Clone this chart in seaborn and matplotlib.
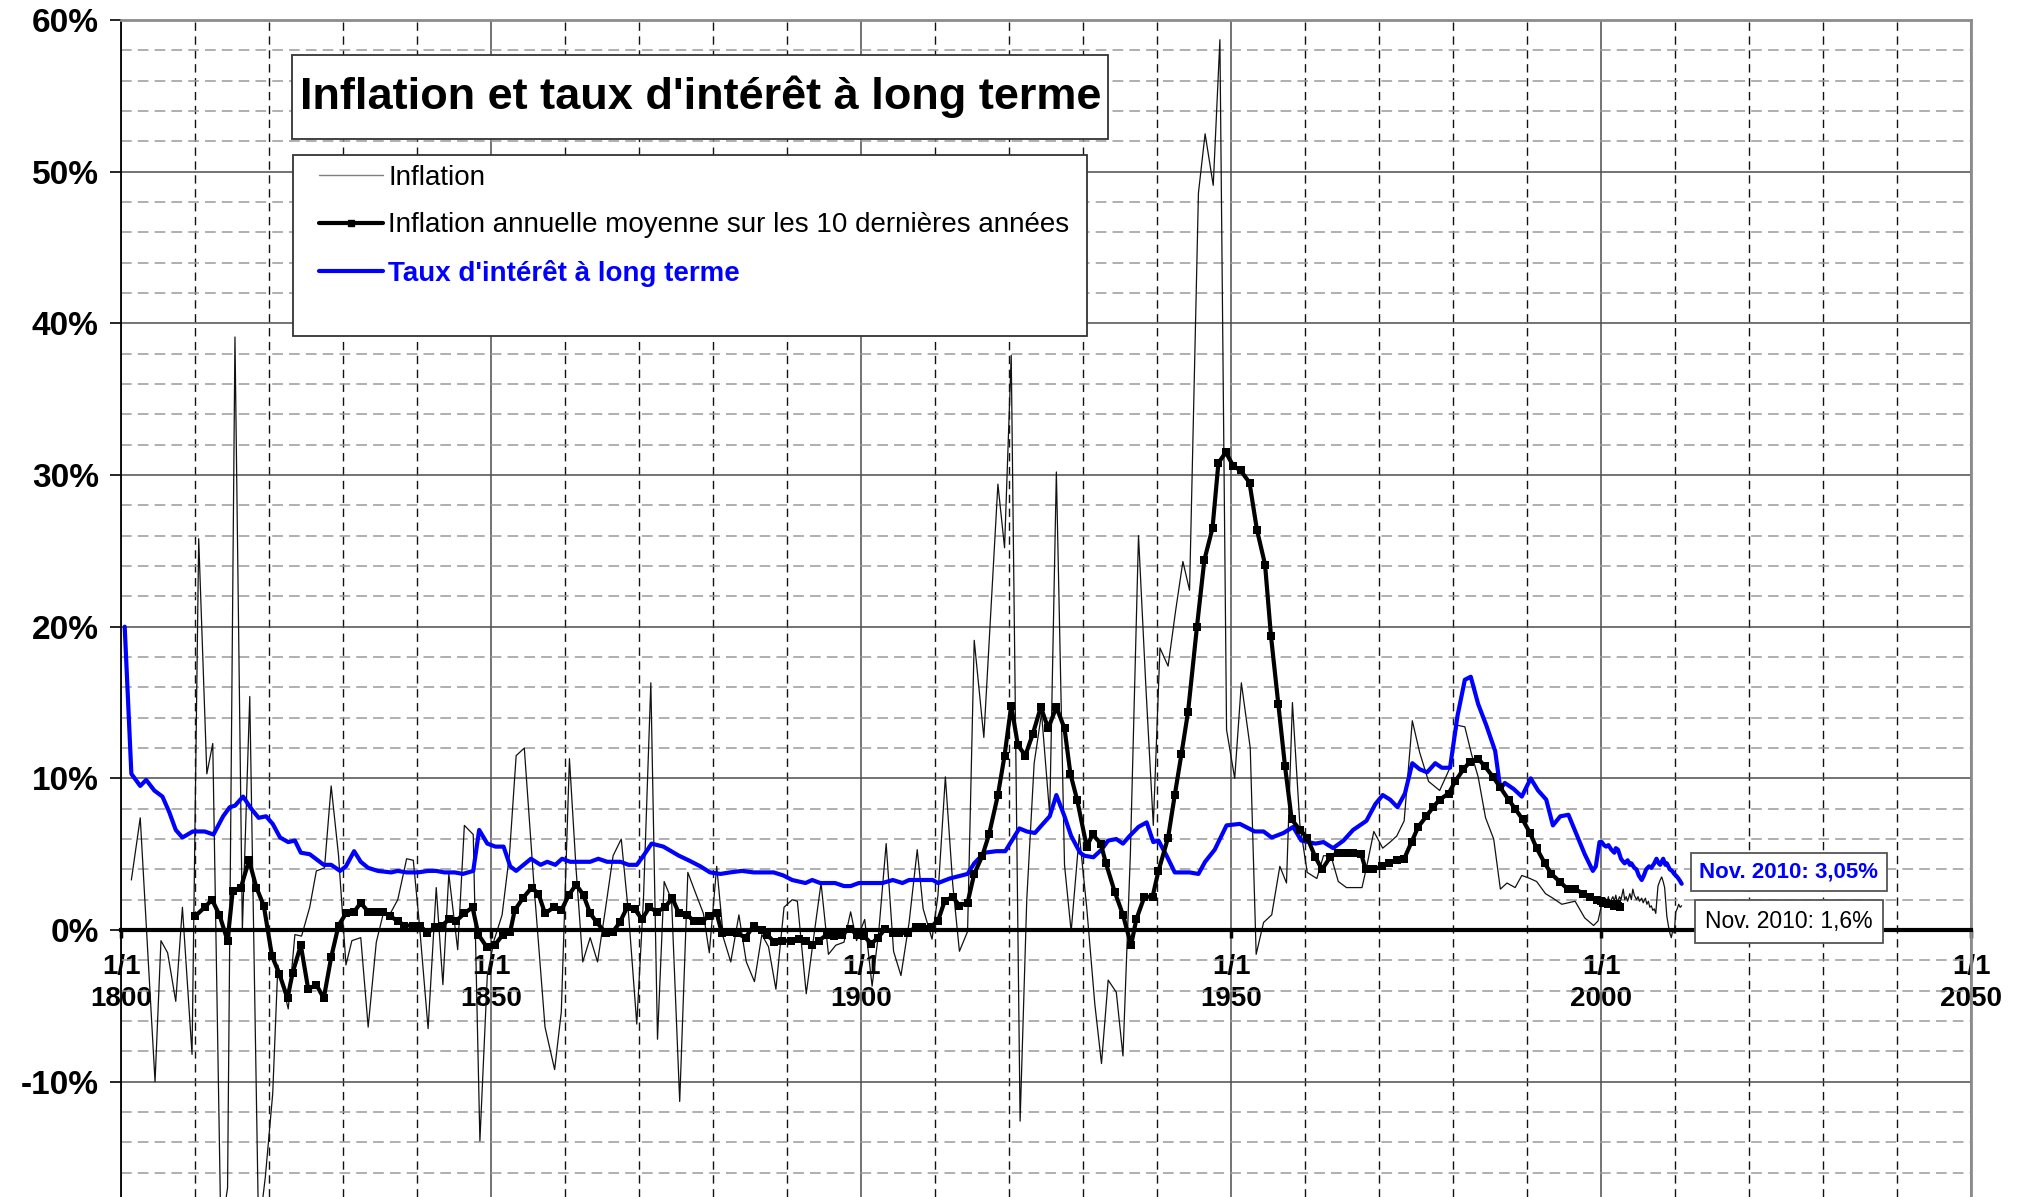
import matplotlib
matplotlib.use("Agg")
import matplotlib.pyplot as plt
import seaborn as sns
from matplotlib.lines import Line2D
from matplotlib.patches import Rectangle
from matplotlib.ticker import MultipleLocator

# Inflation annuelle (puis mensuelle apres 2000), en %
infl_years = [
    1801.4, 1802.6, 1804.6, 1805.4, 1806.3, 1807.4, 1808.3, 1809.6, 1810.5, 1811.6,
    1812.4, 1813.5, 1814.4, 1815.4, 1816.4, 1817.4, 1818.6, 1819.5, 1820.5, 1821.2,
    1822.6, 1823.5, 1824.4, 1825.5, 1826.4, 1827.5, 1828.4, 1829.4, 1830.4, 1831.2,
    1832.4, 1833.4, 1834.5, 1835.4, 1836.4, 1837.4, 1838.6, 1839.5, 1840.3, 1841.5,
    1842.6, 1843.5, 1844.3, 1845.5, 1846.4, 1847.6, 1848.5, 1849.5, 1850.4, 1851.5,
    1852.5, 1853.4, 1854.5, 1855.8, 1857.3, 1858.6, 1859.5, 1860.6, 1861.5, 1862.4,
    1863.4, 1864.4, 1865.5, 1866.5, 1867.6, 1868.6, 1869.7, 1870.6, 1871.6, 1872.5,
    1873.4, 1874.4, 1875.5, 1876.6, 1877.6, 1878.7, 1879.5, 1880.5, 1881.4, 1882.4,
    1883.5, 1884.5, 1885.6, 1886.6, 1887.5, 1888.5, 1889.6, 1890.7, 1891.4, 1892.6,
    1893.6, 1894.6, 1895.6, 1896.6, 1897.7, 1898.6, 1899.4, 1900.5, 1901.5, 1902.4,
    1903.4, 1904.4, 1905.4, 1906.5, 1907.6, 1908.4, 1909.6, 1910.4, 1911.4, 1912.4,
    1913.3, 1914.4, 1915.3, 1916.6, 1918.5, 1919.4, 1920.3, 1921.5, 1922.4, 1923.4,
    1924.4, 1925.5, 1926.4, 1927.5, 1928.4, 1929.5, 1930.5, 1931.6, 1932.5, 1933.4,
    1934.5, 1935.4, 1936.4, 1937.5, 1938.5, 1939.5, 1940.4, 1941.5, 1942.5, 1943.5,
    1944.4, 1945.6, 1946.5, 1947.6, 1948.5, 1949.4, 1950.5, 1951.4, 1952.6, 1953.4,
    1954.4, 1955.5, 1956.6, 1957.5, 1958.3, 1959.3, 1960.3, 1961.6, 1962.5, 1963.5,
    1964.5, 1965.6, 1967.7, 1968.3, 1969.3, 1970.5, 1971.5, 1972.4, 1973.4, 1974.5,
    1975.5, 1976.7, 1978.2, 1979.5, 1980.6, 1981.6, 1982.5, 1983.4, 1984.4, 1985.5,
    1986.4, 1987.3, 1988.4, 1989.3, 1990.4, 1991.3, 1992.5, 1993.5, 1994.7, 1996.5,
    1997.8, 1999.0, 1999.6,
    2000.0, 2000.2, 2000.4, 2000.6, 2000.8, 2001.0, 2001.2, 2001.4, 2001.6, 2001.8,
    2002.0, 2002.2, 2002.5, 2002.7, 2003.0, 2003.2, 2003.4, 2003.6, 2003.9, 2004.1,
    2004.3, 2004.5, 2004.8, 2005.0, 2005.2, 2005.5, 2005.7, 2006.0, 2006.2, 2006.4,
    2006.6, 2006.8, 2007.0, 2007.2, 2007.4, 2007.7, 2008.0, 2008.2, 2008.4, 2008.6,
    2008.8, 2008.9, 2009.1, 2009.3, 2009.5, 2009.7, 2009.9, 2010.1, 2010.3, 2010.5,
    2010.7, 2010.9,
]
infl_values = [
    3.3, 7.4, -10.0, -0.7, -1.5, -4.7, 1.5, -8.2, 25.8, 10.3,
    12.3, -20.0, -17.0, 39.1, 0.0, 15.4, -20.0, -16.3, -10.8, -2.3,
    -5.2, -0.3, -0.4, 1.5, 3.9, 4.1, 9.5, 4.9, -2.3, -0.7,
    -0.5, -6.4, -0.8, 1.0, 1.1, 2.0, 4.7, 4.6, 0.5, -6.5,
    2.8, -3.6, 3.7, -1.3, 6.9, 6.3, -13.9, -3.0, -0.7, 1.0,
    5.0, 11.5, 12.0, 3.0, -6.4, -9.2, -5.4, 11.3, 4.0, -2.1,
    -0.5, -2.1, 1.5, 4.9, 6.0, 1.0, -6.2, 2.0, 16.3, -7.2,
    3.2, 2.0, -11.3, 3.8, 2.5, 1.1, -1.5, 4.2, -0.5, -2.1,
    1.0, -2.1, -3.4, -0.3, -1.1, -3.9, 1.5, 2.0, 1.9, -4.2,
    -0.5, 3.1, -1.6, -1.0, -0.8, 1.2, -0.7, 0.7, -3.7, -0.1,
    5.7, -1.4, -3.0, 0.5, 5.3, 1.4, -0.6, 2.3, 10.1, 3.0,
    -1.4, -0.1, 19.1, 12.7, 29.4, 25.2, 37.9, -12.6, 2.0, 11.0,
    14.3, 7.6, 30.2, 4.3, -0.1, 6.3, 1.5, -4.9, -8.8, -3.3,
    -4.1, -8.3, 5.0, 26.0, 16.0, 6.9, 18.6, 17.4, 21.0, 24.3,
    22.4, 48.6, 52.5, 49.1, 58.7, 13.2, 10.0, 16.3, 12.0, -1.6,
    0.5, 1.0, 4.2, 3.1, 15.0, 7.0, 3.8, 3.4, 4.9, 4.9,
    3.2, 2.8, 2.8, 4.1, 6.5, 5.4, 5.8, 6.2, 7.2, 13.8,
    11.7, 9.8, 9.2, 10.6, 13.5, 13.4, 11.6, 10.1, 7.4, 6.0,
    2.7, 3.1, 2.8, 3.6, 3.4, 3.2, 2.4, 2.1, 1.7, 1.9,
    0.8, 0.3, 0.6,
    1.5, 2.0, 1.7, 2.1, 1.8, 2.2, 1.6, 2.0, 2.2, 1.9,
    2.3, 1.8, 2.2, 2.0, 2.7, 2.0, 2.2, 1.9, 2.4, 2.0,
    2.7, 2.3, 2.0, 2.2, 1.9, 2.1, 1.8, 2.1, 1.7, 1.9,
    1.5, 1.6, 1.3, 1.4, 1.1, 2.9, 3.3, 3.5, 3.2, 2.8,
    1.5, 0.9, 0.3, -0.2, -0.5, 0.0, -0.2, 1.2, 1.4, 1.7,
    1.5, 1.6,
]

# Inflation annuelle moyenne sur les 10 dernieres annees, en %
avg_years = [
    1810.0, 1811.3, 1812.3, 1813.3, 1814.4, 1815.1, 1816.2, 1817.3, 1818.3, 1819.3,
    1820.4, 1821.4, 1822.5, 1823.2, 1824.3, 1825.3, 1826.4, 1827.4, 1828.4, 1829.4,
    1830.4, 1831.5, 1832.4, 1833.4, 1834.5, 1835.4, 1836.4, 1837.4, 1838.3, 1839.4,
    1840.4, 1841.4, 1842.4, 1843.4, 1844.3, 1845.3, 1846.4, 1847.5, 1848.3, 1849.4,
    1850.5, 1851.6, 1852.6, 1853.2, 1854.3, 1855.5, 1856.4, 1857.3, 1858.5, 1859.5,
    1860.5, 1861.5, 1862.5, 1863.4, 1864.3, 1865.5, 1866.5, 1867.4, 1868.4, 1869.4,
    1870.4, 1871.4, 1872.4, 1873.5, 1874.5, 1875.4, 1876.5, 1877.4, 1878.5, 1879.5,
    1880.5, 1881.2, 1882.3, 1883.2, 1884.4, 1885.5, 1886.6, 1887.3, 1888.3, 1889.3,
    1890.5, 1891.6, 1892.5, 1893.4, 1894.3, 1895.4, 1896.3, 1897.4, 1898.5, 1899.4,
    1900.4, 1901.4, 1902.3, 1903.3, 1904.3, 1905.2, 1906.3, 1907.4, 1908.3, 1909.4,
    1910.4, 1911.3, 1912.4, 1913.3, 1914.4, 1915.3, 1916.4, 1917.3, 1918.5, 1919.4,
    1920.3, 1921.2, 1922.2, 1923.2, 1924.3, 1925.3, 1926.4, 1927.5, 1928.3, 1929.2,
    1930.5, 1931.3, 1932.4, 1933.1, 1934.3, 1935.4, 1936.5, 1937.2, 1938.3, 1939.4,
    1940.2, 1941.5, 1942.4, 1943.3, 1944.2, 1945.4, 1946.4, 1947.5, 1948.3, 1949.3,
    1950.3, 1951.3, 1952.5, 1953.5, 1954.6, 1955.4, 1956.4, 1957.3, 1958.2, 1959.3,
    1960.3, 1961.4, 1962.3, 1963.4, 1964.4, 1965.4, 1966.5, 1967.6, 1968.2, 1969.2,
    1970.4, 1971.3, 1972.4, 1973.4, 1974.4, 1975.3, 1976.4, 1977.3, 1978.2, 1979.4,
    1980.3, 1981.4, 1982.3, 1983.4, 1984.3, 1985.4, 1986.4, 1987.5, 1988.4, 1989.4,
    1990.4, 1991.3, 1992.4, 1993.3, 1994.4, 1995.5, 1996.5, 1997.6, 1998.5, 1999.4,
    2000.0, 2000.3, 2000.7, 2001.0, 2001.4, 2001.8, 2002.1, 2002.3, 2002.6,
]
avg_values = [
    0.9, 1.5, 2.0, 1.0, -0.7, 2.6, 2.8, 4.6, 2.8, 1.6,
    -1.7, -2.9, -4.5, -2.8, -1.0, -3.9, -3.6, -4.5, -1.8, 0.3,
    1.1, 1.2, 1.8, 1.2, 1.2, 1.2, 0.9, 0.6, 0.3, 0.3,
    0.3, -0.2, 0.2, 0.3, 0.7, 0.6, 1.1, 1.5, -0.3, -1.1,
    -1.0, -0.3, -0.1, 1.3, 2.1, 2.8, 2.4, 1.1, 1.5, 1.3,
    2.3, 3.0, 2.3, 1.1, 0.5, -0.2, -0.1, 0.5, 1.5, 1.4,
    0.7, 1.5, 1.2, 1.5, 2.1, 1.1, 1.0, 0.6, 0.6, 0.9,
    1.1, -0.2, -0.1, -0.2, -0.5, 0.3, 0.0, -0.3, -0.8, -0.7,
    -0.7, -0.6, -0.7, -1.0, -0.7, -0.3, -0.4, -0.3, 0.1, -0.3,
    -0.4, -0.9, -0.5, 0.1, -0.2, -0.2, -0.2, 0.2, 0.2, 0.2,
    0.6, 1.9, 2.2, 1.6, 1.8, 3.7, 4.9, 6.3, 8.9, 11.5,
    14.8, 12.2, 11.5, 12.9, 14.7, 13.3, 14.7, 13.3, 10.3, 8.6,
    5.5, 6.3, 5.7, 4.4, 2.5, 1.0, -1.0, 0.7, 2.2, 2.2,
    3.9, 6.1, 8.9, 11.6, 14.4, 20.0, 24.4, 26.5, 30.8, 31.5,
    30.6, 30.3, 29.5, 26.4, 24.1, 19.4, 14.9, 10.8, 7.3, 6.6,
    6.1, 4.8, 4.0, 4.8, 5.1, 5.1, 5.1, 5.0, 4.0, 4.0,
    4.2, 4.4, 4.6, 4.7, 5.8, 6.8, 7.5, 8.1, 8.6, 9.0,
    9.8, 10.6, 11.1, 11.3, 10.8, 10.1, 9.4, 8.6, 8.0, 7.3,
    6.4, 5.4, 4.4, 3.7, 3.2, 2.7, 2.7, 2.4, 2.2, 2.0,
    1.9, 1.8, 1.8, 1.7, 1.7, 1.6, 1.7, 1.6, 1.5,
]

# Taux d'interet a long terme, en %
rate_years = [
    1800.5, 1801.4, 1802.6, 1803.4, 1804.5, 1805.6, 1806.5, 1807.4, 1808.3, 1809.7,
    1811.3, 1812.5, 1813.8, 1814.7, 1815.4, 1816.5, 1817.6, 1818.6, 1819.6, 1820.5,
    1821.5, 1822.6, 1823.5, 1824.3, 1825.5, 1826.6, 1827.4, 1828.4, 1829.6, 1830.4,
    1831.5, 1832.4, 1833.4, 1834.7, 1836.5, 1837.4, 1838.6, 1840.1, 1841.5, 1842.6,
    1843.7, 1845.1, 1846.2, 1847.6, 1848.4, 1849.5, 1850.6, 1851.7, 1852.6, 1853.4,
    1854.4, 1855.4, 1856.7, 1857.6, 1858.7, 1859.6, 1860.7, 1862.1, 1863.4, 1864.5,
    1865.7, 1867.5, 1868.6, 1869.7, 1870.6, 1871.7, 1873.3, 1875.4, 1876.7, 1878.3,
    1879.6, 1881.0, 1882.3, 1883.9, 1885.5, 1888.2, 1889.5, 1890.7, 1892.5, 1893.4,
    1894.5, 1896.5, 1897.7, 1898.6, 1899.7, 1902.9, 1904.3, 1905.6, 1906.5, 1909.7,
    1910.4, 1912.0, 1914.4, 1915.3, 1916.7, 1918.3, 1919.5, 1921.4, 1922.4, 1923.5,
    1924.4, 1925.5, 1926.4, 1927.5, 1928.4, 1929.6, 1930.2, 1931.4, 1932.5, 1933.4,
    1934.5, 1935.4, 1936.3, 1937.5, 1938.6, 1939.5, 1940.2, 1941.3, 1942.4, 1944.4,
    1945.6, 1946.5, 1947.8, 1949.4, 1951.2, 1953.2, 1954.4, 1955.5, 1957.1, 1958.4,
    1959.5, 1961.4, 1962.5, 1963.8, 1965.2, 1966.5, 1968.3, 1969.5, 1970.5, 1971.5,
    1972.5, 1973.5, 1974.5, 1975.5, 1976.5, 1977.6, 1978.5, 1979.6, 1980.6, 1981.6,
    1982.4, 1983.4, 1984.5, 1985.7, 1986.4, 1987.0, 1988.2, 1989.3, 1990.5, 1991.5,
    1992.6, 1993.5, 1994.5, 1995.6, 1996.7, 1997.8, 1998.9, 1999.3, 1999.8, 2000.1,
    2000.4, 2000.7, 2001.0, 2001.4, 2001.8, 2002.0, 2002.3, 2002.7, 2003.0, 2003.2,
    2003.6, 2003.9, 2004.1, 2004.5, 2004.8, 2005.1, 2005.5, 2005.8, 2006.1, 2006.5,
    2006.8, 2007.2, 2007.5, 2007.8, 2008.0, 2008.4, 2008.7, 2008.9, 2009.3, 2009.6,
    2009.9, 2010.3, 2010.6, 2010.9,
]
rate_values = [
    20.0, 10.3, 9.5, 9.9, 9.2, 8.8, 7.8, 6.6, 6.1, 6.5,
    6.5, 6.3, 7.5, 8.1, 8.2, 8.8, 8.0, 7.4, 7.5, 7.0,
    6.1, 5.8, 5.9, 5.1, 5.0, 4.6, 4.3, 4.3, 3.9, 4.2,
    5.2, 4.5, 4.1, 3.9, 3.8, 3.9, 3.8, 3.8, 3.9, 3.9,
    3.8, 3.8, 3.7, 3.9, 6.6, 5.7, 5.5, 5.5, 4.2, 3.9,
    4.3, 4.7, 4.3, 4.5, 4.3, 4.7, 4.5, 4.5, 4.5, 4.7,
    4.5, 4.5, 4.3, 4.3, 4.9, 5.7, 5.5, 4.9, 4.6, 4.2,
    3.8, 3.7, 3.8, 3.9, 3.8, 3.8, 3.6, 3.3, 3.1, 3.3,
    3.1, 3.1, 2.9, 2.9, 3.1, 3.1, 3.3, 3.1, 3.3, 3.3,
    3.1, 3.4, 3.7, 4.4, 5.1, 5.2, 5.2, 6.7, 6.5, 6.4,
    6.9, 7.5, 8.9, 7.5, 6.2, 5.1, 4.9, 4.8, 5.3, 5.9,
    6.0, 5.7, 6.2, 6.8, 7.1, 5.8, 5.9, 4.9, 3.8, 3.8,
    3.7, 4.5, 5.3, 6.9, 7.0, 6.5, 6.5, 6.1, 6.4, 6.8,
    5.9, 5.7, 5.8, 5.4, 5.9, 6.6, 7.2, 8.3, 8.9, 8.6,
    8.1, 9.0, 11.0, 10.6, 10.4, 11.0, 10.7, 10.7, 14.1, 16.5,
    16.7, 14.9, 13.5, 11.8, 9.3, 9.7, 9.3, 8.8, 10.0, 9.2,
    8.6, 6.9, 7.5, 7.6, 6.3, 5.0, 3.9, 4.2, 5.8, 5.8,
    5.6, 5.5, 5.6, 5.3, 5.1, 5.4, 5.3, 4.7, 4.5, 4.4,
    4.6, 4.3, 4.4, 4.1, 4.0, 3.6, 3.3, 3.6, 4.0, 4.2,
    4.1, 4.4, 4.7, 4.4, 4.3, 4.7, 4.3, 4.4, 4.0, 3.9,
    3.7, 3.5, 3.3, 3.05,
]

year_ticks = [1800, 1850, 1900, 1950, 2000, 2050]
pct_ticks = [-10, 0, 10, 20, 30, 40, 50, 60]

title = "Inflation et taux d'intérêt à long terme"
legend_labels = [
    "Inflation",
    "Inflation annuelle moyenne sur les 10 dernières années",
    "Taux d'intérêt à long terme",
]
note_rate = "Nov. 2010: 3,05%"
note_infl = "Nov. 2010: 1,6%"

BLUE = "#0000ff"

sns.set_style("white")
plt.rcParams["font.family"] = ["Liberation Sans", "DejaVu Sans"]
plt.rcParams["text.color"] = "black"
plt.rcParams["xtick.color"] = "black"
plt.rcParams["ytick.color"] = "black"

fig = plt.figure(figsize=(20.2, 11.97), dpi=100)
ax = fig.add_axes([121 / 2020, 0, 1850 / 2020, 1177 / 1197])

sns.lineplot(x=infl_years, y=infl_values, ax=ax, color="#111111", lw=0.9,
             estimator=None, sort=False, zorder=2)
sns.lineplot(x=rate_years, y=rate_values, ax=ax, color=BLUE, lw=3.0,
             estimator=None, sort=False, zorder=3)
sns.lineplot(x=avg_years, y=avg_values, ax=ax, color="black", lw=3.0,
             marker="s", markersize=5.5, markeredgewidth=0,
             estimator=None, sort=False, zorder=4)

ax.set_xlim(1800, 2050)
ax.set_ylim(-17.6, 60)
ax.set_xlabel("")
ax.set_ylabel("")

# spines first: moving the bottom spine resets the tick objects
ax.spines["bottom"].set_position(("data", 0))
ax.spines["bottom"].set_linewidth(3.0)
ax.spines["bottom"].set_color("black")
ax.spines["left"].set_linewidth(1.3)
ax.spines["left"].set_color("black")
for side in ["top", "right"]:
    ax.spines[side].set_linewidth(2.0)
    ax.spines[side].set_color("#8c8c8c")

ax.xaxis.set_minor_locator(MultipleLocator(10))
ax.yaxis.set_minor_locator(MultipleLocator(2))
ax.tick_params(axis="y", which="major", length=8, width=1.2, pad=8, left=True,
               labelsize=24)
ax.tick_params(axis="x", which="major", length=6, width=2.5, direction="out",
               pad=11, bottom=True, labelsize=20)
ax.tick_params(which="minor", length=0)

ax.set_xticks(year_ticks, labels=[f"1/1\n{y}" for y in year_ticks])
ax.set_yticks(pct_ticks, labels=[f"{v}%" for v in pct_ticks])
for lbl in ax.get_xticklabels():
    lbl.set_fontweight("bold")
    lbl.set_linespacing(1.3)
for lbl in ax.get_yticklabels():
    lbl.set_fontweight("bold")

ax.set_axisbelow(True)
ax.grid(which="major", axis="both", color="#4d4d4d", lw=1.1, ls="-")
ax.grid(which="minor", axis="y", color="#9a9a9a", lw=1.1, ls=(0, (7, 4)))
ax.grid(which="minor", axis="x", color="#111111", lw=1.0, ls=(0, (6, 4)))

# boite du titre
ax.add_patch(Rectangle((0.0924, 0.8989), 0.441, 0.0714, transform=ax.transAxes,
                       fc="white", ec="#333333", lw=1.3, zorder=6))
ax.text(0.3135, 0.9346, title, transform=ax.transAxes, ha="center", va="center",
        fontsize=32.5, fontweight="bold", color="black", zorder=7)

# boite de la legende
ax.add_patch(Rectangle((0.093, 0.7315), 0.429, 0.1538, transform=ax.transAxes,
                       fc="white", ec="#333333", lw=1.3, zorder=6))
handles = [
    Line2D([], [], color="#7f7f7f", lw=1.0),
    Line2D([], [], color="black", lw=3.0, marker="s", markersize=5),
    Line2D([], [], color=BLUE, lw=3.0),
]
leg = ax.legend(handles, legend_labels, loc="upper left",
                bbox_to_anchor=(0.107, 0.877), frameon=False, fontsize=20,
                handlelength=2.3, handletextpad=0.2, labelspacing=0.78,
                borderpad=0, borderaxespad=0)
leg.set_zorder(7)
for t in leg.get_texts():
    t.set_color("black")
leg.get_texts()[2].set_color(BLUE)
leg.get_texts()[2].set_fontweight("bold")

# etiquettes de fin de serie
ax.text(0.9016, 0.2761, note_rate, transform=ax.transAxes, ha="center", va="center",
        fontsize=16, fontweight="bold", color=BLUE, zorder=8,
        bbox=dict(boxstyle="square,pad=0.4", fc="white", ec="#555555", lw=1.3))
ax.text(0.9016, 0.2341, note_infl, transform=ax.transAxes, ha="center", va="center",
        fontsize=16.5, color="black", zorder=9,
        bbox=dict(boxstyle="square,pad=0.45", fc="white", ec="#555555", lw=1.3))

fig.savefig("out.png", dpi=100)
